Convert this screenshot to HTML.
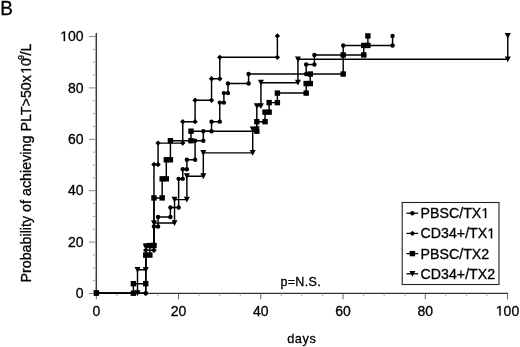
<!DOCTYPE html>
<html><head><meta charset="utf-8"><style>
html,body{margin:0;padding:0;background:#fff;}
body{width:520px;height:347px;overflow:hidden;}
svg{display:block;font-family:"Liberation Sans",sans-serif;will-change:transform;}
text{stroke:#000;stroke-width:0.3px;}
</style></head><body>
<svg width="520" height="347" viewBox="0 0 520 347">
<rect width="520" height="347" fill="#fff"/>
<text transform="translate(0.2,15.2) scale(0.92,1)" font-size="20.6" fill="#000" stroke="#000" stroke-width="0.25">B</text>
<g transform="translate(31,282.6) rotate(-90)" fill="#000"><text x="0" y="0" font-size="14.3">Probability of achieving PLT&gt;50x</text><path transform="translate(208.663,0) scale(0.006982,-0.006982)" d="M515 0V1237L197 1010V1180L530 1409H696V0Z" fill="#000" stroke="#000" stroke-width="0.3" vector-effect="non-scaling-stroke"/><text x="216.616" y="0" font-size="14.3">0</text><text x="222.769" y="-7.3" font-size="8.5">9</text><text x="227.096" y="0" font-size="14.3">/L</text></g>
<line x1="96.3" y1="33" x2="96.3" y2="294" stroke="#3a3a3a" stroke-width="1.5"/>
<line x1="95.6" y1="293.4" x2="508.2" y2="293.4" stroke="#333" stroke-width="1.3"/>
<line x1="89.0" y1="293.5" x2="96" y2="293.5" stroke="#888" stroke-width="1"/>
<line x1="92.6" y1="280.65" x2="96" y2="280.65" stroke="#aaa" stroke-width="1"/>
<line x1="92.6" y1="267.8" x2="96" y2="267.8" stroke="#aaa" stroke-width="1"/>
<line x1="92.6" y1="254.95" x2="96" y2="254.95" stroke="#aaa" stroke-width="1"/>
<line x1="89.0" y1="242.1" x2="96" y2="242.1" stroke="#888" stroke-width="1"/>
<line x1="92.6" y1="229.25" x2="96" y2="229.25" stroke="#aaa" stroke-width="1"/>
<line x1="92.6" y1="216.4" x2="96" y2="216.4" stroke="#aaa" stroke-width="1"/>
<line x1="92.6" y1="203.55" x2="96" y2="203.55" stroke="#aaa" stroke-width="1"/>
<line x1="89.0" y1="190.7" x2="96" y2="190.7" stroke="#888" stroke-width="1"/>
<line x1="92.6" y1="177.85" x2="96" y2="177.85" stroke="#aaa" stroke-width="1"/>
<line x1="92.6" y1="165.0" x2="96" y2="165.0" stroke="#aaa" stroke-width="1"/>
<line x1="92.6" y1="152.15" x2="96" y2="152.15" stroke="#aaa" stroke-width="1"/>
<line x1="89.0" y1="139.3" x2="96" y2="139.3" stroke="#888" stroke-width="1"/>
<line x1="92.6" y1="126.45" x2="96" y2="126.45" stroke="#aaa" stroke-width="1"/>
<line x1="92.6" y1="113.6" x2="96" y2="113.6" stroke="#aaa" stroke-width="1"/>
<line x1="92.6" y1="100.75" x2="96" y2="100.75" stroke="#aaa" stroke-width="1"/>
<line x1="89.0" y1="87.9" x2="96" y2="87.9" stroke="#888" stroke-width="1"/>
<line x1="92.6" y1="75.05" x2="96" y2="75.05" stroke="#aaa" stroke-width="1"/>
<line x1="92.6" y1="62.2" x2="96" y2="62.2" stroke="#aaa" stroke-width="1"/>
<line x1="92.6" y1="49.35" x2="96" y2="49.35" stroke="#aaa" stroke-width="1"/>
<line x1="89.0" y1="36.5" x2="96" y2="36.5" stroke="#888" stroke-width="1"/>
<line x1="96.3" y1="293.5" x2="96.3" y2="299.3" stroke="#666" stroke-width="1"/>
<line x1="116.86" y1="293.5" x2="116.86" y2="296.0" stroke="#aaa" stroke-width="1"/>
<line x1="137.42" y1="293.5" x2="137.42" y2="296.0" stroke="#aaa" stroke-width="1"/>
<line x1="157.98" y1="293.5" x2="157.98" y2="296.0" stroke="#aaa" stroke-width="1"/>
<line x1="178.54" y1="293.5" x2="178.54" y2="299.3" stroke="#666" stroke-width="1"/>
<line x1="199.1" y1="293.5" x2="199.1" y2="296.0" stroke="#aaa" stroke-width="1"/>
<line x1="219.66" y1="293.5" x2="219.66" y2="296.0" stroke="#aaa" stroke-width="1"/>
<line x1="240.22" y1="293.5" x2="240.22" y2="296.0" stroke="#aaa" stroke-width="1"/>
<line x1="260.78" y1="293.5" x2="260.78" y2="299.3" stroke="#666" stroke-width="1"/>
<line x1="281.34" y1="293.5" x2="281.34" y2="296.0" stroke="#aaa" stroke-width="1"/>
<line x1="301.9" y1="293.5" x2="301.9" y2="296.0" stroke="#aaa" stroke-width="1"/>
<line x1="322.46" y1="293.5" x2="322.46" y2="296.0" stroke="#aaa" stroke-width="1"/>
<line x1="343.02" y1="293.5" x2="343.02" y2="299.3" stroke="#666" stroke-width="1"/>
<line x1="363.58" y1="293.5" x2="363.58" y2="296.0" stroke="#aaa" stroke-width="1"/>
<line x1="384.14" y1="293.5" x2="384.14" y2="296.0" stroke="#aaa" stroke-width="1"/>
<line x1="404.7" y1="293.5" x2="404.7" y2="296.0" stroke="#aaa" stroke-width="1"/>
<line x1="425.26" y1="293.5" x2="425.26" y2="299.3" stroke="#666" stroke-width="1"/>
<line x1="445.82" y1="293.5" x2="445.82" y2="296.0" stroke="#aaa" stroke-width="1"/>
<line x1="466.38" y1="293.5" x2="466.38" y2="296.0" stroke="#aaa" stroke-width="1"/>
<line x1="486.94" y1="293.5" x2="486.94" y2="296.0" stroke="#aaa" stroke-width="1"/>
<line x1="507.5" y1="293.5" x2="507.5" y2="299.3" stroke="#666" stroke-width="1"/>
<g font-size="14" fill="#000">
<text x="75.814" y="298.1" font-size="14">0</text>
<text x="68.028" y="246.7" font-size="14">20</text>
<text x="68.028" y="195.3" font-size="14">40</text>
<text x="68.028" y="143.9" font-size="14">60</text>
<text x="68.028" y="92.5" font-size="14">80</text>
<path transform="translate(60.242,41.1) scale(0.006836,-0.006836)" d="M515 0V1237L197 1010V1180L530 1409H696V0Z" fill="#000" stroke="#000" stroke-width="0.3" vector-effect="non-scaling-stroke"/><text x="68.028" y="41.1" font-size="14">00</text>
<text x="92.407" y="315.6" font-size="14">0</text>
<text x="170.754" y="315.6" font-size="14">20</text>
<text x="252.994" y="315.6" font-size="14">40</text>
<text x="335.234" y="315.6" font-size="14">60</text>
<text x="417.474" y="315.6" font-size="14">80</text>
<path transform="translate(495.821,315.6) scale(0.006836,-0.006836)" d="M515 0V1237L197 1010V1180L530 1409H696V0Z" fill="#000" stroke="#000" stroke-width="0.3" vector-effect="non-scaling-stroke"/><text x="503.607" y="315.6" font-size="14">00</text>
</g>
<polyline points="96.36,293.2 145.73,293.2 145.73,245.55 153.96,245.55 153.96,226.49 158.07,226.49 158.07,216.96 170.41,216.96 170.41,207.43 178.64,207.43 178.64,178.84 182.75,178.84 182.75,169.31 186.87,169.31 186.87,159.79 195.1,159.79 195.1,140.73 203.32,140.73 203.32,131.2 211.55,131.2 211.55,121.67 219.78,121.67 219.78,102.61 223.89,102.61 223.89,93.08 228.01,93.08 228.01,83.55 248.58,83.55 248.58,74.02 306.17,74.02 306.17,64.49 314.4,64.49 314.4,54.96 343.2,54.96 343.2,45.43 392.57,45.43 392.57,35.9" fill="none" stroke="#000" stroke-width="1.45"/>
<g fill="#000"><circle cx="96.36" cy="293.2" r="2.2"/><circle cx="145.73" cy="293.2" r="2.2"/><circle cx="145.73" cy="245.55" r="2.2"/><circle cx="153.96" cy="245.55" r="2.2"/><circle cx="153.96" cy="226.49" r="2.2"/><circle cx="158.07" cy="226.49" r="2.2"/><circle cx="158.07" cy="216.96" r="2.2"/><circle cx="170.41" cy="216.96" r="2.2"/><circle cx="170.41" cy="207.43" r="2.2"/><circle cx="178.64" cy="207.43" r="2.2"/><circle cx="178.64" cy="178.84" r="2.2"/><circle cx="182.75" cy="178.84" r="2.2"/><circle cx="182.75" cy="169.31" r="2.2"/><circle cx="186.87" cy="169.31" r="2.2"/><circle cx="186.87" cy="159.79" r="2.2"/><circle cx="195.1" cy="159.79" r="2.2"/><circle cx="195.1" cy="140.73" r="2.2"/><circle cx="203.32" cy="140.73" r="2.2"/><circle cx="203.32" cy="131.2" r="2.2"/><circle cx="211.55" cy="131.2" r="2.2"/><circle cx="211.55" cy="121.67" r="2.2"/><circle cx="219.78" cy="121.67" r="2.2"/><circle cx="219.78" cy="102.61" r="2.2"/><circle cx="223.89" cy="102.61" r="2.2"/><circle cx="223.89" cy="93.08" r="2.2"/><circle cx="228.01" cy="93.08" r="2.2"/><circle cx="228.01" cy="83.55" r="2.2"/><circle cx="248.58" cy="83.55" r="2.2"/><circle cx="248.58" cy="74.02" r="2.2"/><circle cx="306.17" cy="74.02" r="2.2"/><circle cx="306.17" cy="64.49" r="2.2"/><circle cx="314.4" cy="64.49" r="2.2"/><circle cx="314.4" cy="54.96" r="2.2"/><circle cx="343.2" cy="54.96" r="2.2"/><circle cx="343.2" cy="45.43" r="2.2"/><circle cx="392.57" cy="45.43" r="2.2"/><circle cx="392.57" cy="35.9" r="2.2"/></g>
<polyline points="96.36,293.2 145.73,293.2 145.73,250.32 153.96,250.32 153.96,164.55 158.07,164.55 158.07,143.11 182.75,143.11 182.75,121.67 195.1,121.67 195.1,100.22 211.55,100.22 211.55,78.78 219.78,78.78 219.78,57.34 277.38,57.34 277.38,35.9" fill="none" stroke="#000" stroke-width="1.45"/>
<g fill="#000"><path d="M96.36,290.5L99.06,293.2L96.36,295.9L93.66,293.2Z"/><path d="M145.73,290.5L148.43,293.2L145.73,295.9L143.03,293.2Z"/><path d="M145.73,247.62L148.43,250.32L145.73,253.02L143.03,250.32Z"/><path d="M153.96,247.62L156.66,250.32L153.96,253.02L151.26,250.32Z"/><path d="M153.96,161.85L156.66,164.55L153.96,167.25L151.26,164.55Z"/><path d="M158.07,161.85L160.77,164.55L158.07,167.25L155.37,164.55Z"/><path d="M158.07,140.41L160.77,143.11L158.07,145.81L155.37,143.11Z"/><path d="M182.75,140.41L185.45,143.11L182.75,145.81L180.05,143.11Z"/><path d="M182.75,118.97L185.45,121.67L182.75,124.37L180.05,121.67Z"/><path d="M195.1,118.97L197.8,121.67L195.1,124.37L192.4,121.67Z"/><path d="M195.1,97.52L197.8,100.22L195.1,102.92L192.4,100.22Z"/><path d="M211.55,97.52L214.25,100.22L211.55,102.92L208.85,100.22Z"/><path d="M211.55,76.08L214.25,78.78L211.55,81.48L208.85,78.78Z"/><path d="M219.78,76.08L222.48,78.78L219.78,81.48L217.08,78.78Z"/><path d="M219.78,54.64L222.48,57.34L219.78,60.04L217.08,57.34Z"/><path d="M277.38,54.64L280.08,57.34L277.38,60.04L274.68,57.34Z"/><path d="M277.38,33.2L280.08,35.9L277.38,38.6L274.68,35.9Z"/></g>
<polyline points="96.36,293.2 133.39,293.2 133.39,283.67 145.73,283.67 145.73,255.08 149.84,255.08 149.84,245.55 153.96,245.55 153.96,197.9 162.18,197.9 162.18,178.84 166.3,178.84 166.3,159.79 170.41,159.79 170.41,140.73 190.98,140.73 190.98,131.2 256.81,131.2 256.81,121.67 265.03,121.67 265.03,112.14 269.15,112.14 269.15,102.61 277.38,102.61 277.38,93.08 306.17,93.08 306.17,83.55 310.29,83.55 310.29,74.02 343.2,74.02 343.2,54.96 363.77,54.96 363.77,45.43 367.88,45.43 367.88,35.9" fill="none" stroke="#000" stroke-width="1.45"/>
<g fill="#000"><rect x="93.66" y="290.5" width="5.4" height="5.4"/><rect x="130.69" y="290.5" width="5.4" height="5.4"/><rect x="130.69" y="280.97" width="5.4" height="5.4"/><rect x="143.03" y="280.97" width="5.4" height="5.4"/><rect x="143.03" y="252.38" width="5.4" height="5.4"/><rect x="147.14" y="252.38" width="5.4" height="5.4"/><rect x="147.14" y="242.85" width="5.4" height="5.4"/><rect x="151.26" y="242.85" width="5.4" height="5.4"/><rect x="151.26" y="195.2" width="5.4" height="5.4"/><rect x="159.48" y="195.2" width="5.4" height="5.4"/><rect x="159.48" y="176.14" width="5.4" height="5.4"/><rect x="163.6" y="176.14" width="5.4" height="5.4"/><rect x="163.6" y="157.09" width="5.4" height="5.4"/><rect x="167.71" y="157.09" width="5.4" height="5.4"/><rect x="167.71" y="138.03" width="5.4" height="5.4"/><rect x="188.28" y="138.03" width="5.4" height="5.4"/><rect x="188.28" y="128.5" width="5.4" height="5.4"/><rect x="254.11" y="128.5" width="5.4" height="5.4"/><rect x="254.11" y="118.97" width="5.4" height="5.4"/><rect x="262.33" y="118.97" width="5.4" height="5.4"/><rect x="262.33" y="109.44" width="5.4" height="5.4"/><rect x="266.45" y="109.44" width="5.4" height="5.4"/><rect x="266.45" y="99.91" width="5.4" height="5.4"/><rect x="274.68" y="99.91" width="5.4" height="5.4"/><rect x="274.68" y="90.38" width="5.4" height="5.4"/><rect x="303.47" y="90.38" width="5.4" height="5.4"/><rect x="303.47" y="80.85" width="5.4" height="5.4"/><rect x="307.59" y="80.85" width="5.4" height="5.4"/><rect x="307.59" y="71.32" width="5.4" height="5.4"/><rect x="340.5" y="71.32" width="5.4" height="5.4"/><rect x="340.5" y="52.26" width="5.4" height="5.4"/><rect x="361.07" y="52.26" width="5.4" height="5.4"/><rect x="361.07" y="42.73" width="5.4" height="5.4"/><rect x="365.18" y="42.73" width="5.4" height="5.4"/><rect x="365.18" y="33.2" width="5.4" height="5.4"/></g>
<polyline points="96.36,293.2 137.5,293.2 137.5,269.81 145.73,269.81 145.73,246.42 153.96,246.42 153.96,223.03 174.53,223.03 174.53,199.64 186.87,199.64 186.87,176.25 203.32,176.25 203.32,152.85 252.69,152.85 252.69,129.46 256.81,129.46 256.81,106.07 260.92,106.07 260.92,82.68 297.95,82.68 297.95,59.29 507.76,59.29 507.76,35.9" fill="none" stroke="#000" stroke-width="1.45"/>
<g fill="#000"><path d="M93.36,290.3L99.36,290.3L96.36,296.1Z"/><path d="M134.5,290.3L140.5,290.3L137.5,296.1Z"/><path d="M134.5,266.91L140.5,266.91L137.5,272.71Z"/><path d="M142.73,266.91L148.73,266.91L145.73,272.71Z"/><path d="M142.73,243.52L148.73,243.52L145.73,249.32Z"/><path d="M150.96,243.52L156.96,243.52L153.96,249.32Z"/><path d="M150.96,220.13L156.96,220.13L153.96,225.93Z"/><path d="M171.53,220.13L177.53,220.13L174.53,225.93Z"/><path d="M171.53,196.74L177.53,196.74L174.53,202.54Z"/><path d="M183.87,196.74L189.87,196.74L186.87,202.54Z"/><path d="M183.87,173.35L189.87,173.35L186.87,179.15Z"/><path d="M200.32,173.35L206.32,173.35L203.32,179.15Z"/><path d="M200.32,149.95L206.32,149.95L203.32,155.75Z"/><path d="M249.69,149.95L255.69,149.95L252.69,155.75Z"/><path d="M249.69,126.56L255.69,126.56L252.69,132.36Z"/><path d="M253.81,126.56L259.81,126.56L256.81,132.36Z"/><path d="M253.81,103.17L259.81,103.17L256.81,108.97Z"/><path d="M257.92,103.17L263.92,103.17L260.92,108.97Z"/><path d="M257.92,79.78L263.92,79.78L260.92,85.58Z"/><path d="M294.95,79.78L300.95,79.78L297.95,85.58Z"/><path d="M294.95,56.39L300.95,56.39L297.95,62.19Z"/><path d="M504.76,56.39L510.76,56.39L507.76,62.19Z"/><path d="M504.76,33.0L510.76,33.0L507.76,38.8Z"/></g>
<text x="280.4" y="286.1" font-size="12.5" letter-spacing="0.35" fill="#000">p=N.S.</text>
<text x="287.2" y="342.6" font-size="12.8" letter-spacing="0.55" fill="#000">days</text>
<g font-size="14" fill="#000">
<rect x="402.2" y="202.5" width="96.8" height="82" fill="#fff" stroke="#222" stroke-width="1.1"/>
<line x1="406.5" y1="213.2" x2="418.2" y2="213.2" stroke="#000" stroke-width="1.3"/>
<g fill="#000"><circle cx="412.4" cy="213.2" r="2.2"/></g>
<text x="420.6" y="218.1" font-size="14.2">PBSC/TX</text><path transform="translate(481.359,218.1) scale(0.006934,-0.006934)" d="M515 0V1237L197 1010V1180L530 1409H696V0Z" fill="#000" stroke="#000" stroke-width="0.3" vector-effect="non-scaling-stroke"/>
<line x1="406.5" y1="233.4" x2="418.2" y2="233.4" stroke="#000" stroke-width="1.3"/>
<g fill="#000"><path d="M412.4,230.7L415.1,233.4L412.4,236.1L409.7,233.4Z"/></g>
<text x="420.6" y="238.3" font-size="14.2">CD34+/TX</text><path transform="translate(487.287,238.3) scale(0.006934,-0.006934)" d="M515 0V1237L197 1010V1180L530 1409H696V0Z" fill="#000" stroke="#000" stroke-width="0.3" vector-effect="non-scaling-stroke"/>
<line x1="406.5" y1="253.6" x2="418.2" y2="253.6" stroke="#000" stroke-width="1.3"/>
<g fill="#000"><rect x="409.7" y="250.9" width="5.4" height="5.4"/></g>
<text x="420.6" y="258.5" font-size="14.2">PBSC/TX2</text>
<line x1="406.5" y1="273.8" x2="418.2" y2="273.8" stroke="#000" stroke-width="1.3"/>
<g fill="#000"><path d="M409.4,270.9L415.4,270.9L412.4,276.7Z"/></g>
<text x="420.6" y="278.7" font-size="14.2">CD34+/TX2</text>
</g>
</svg>
</body></html>
